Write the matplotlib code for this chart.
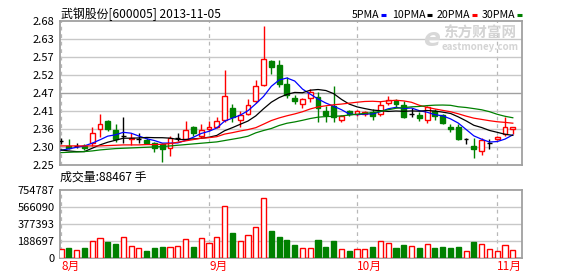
import matplotlib
matplotlib.use('Agg')
import matplotlib.pyplot as plt
import numpy as np
import pandas as pd
from matplotlib.transforms import ScaledTranslation
from matplotlib.lines import Line2D

plt.rcParams['font.family'] = ['Noto Sans CJK SC', 'DejaVu Sans']

# ---------------- data ----------------
title = '武钢股份[600005] 2013-11-05'
month_idx = [0, 19, 38, 56]
month_labels = ['8月', '9月', '10月', '11月']

opens = [2.322, 2.307, 2.307, 2.306, 2.317, 2.357, 2.382, 2.355, 2.337, 2.328,
         2.329, 2.326, 2.315, 2.312, 2.300, 2.332, 2.327, 2.364, 2.337, 2.357,
         2.364, 2.384, 2.420, 2.384, 2.402, 2.440, 2.488, 2.560, 2.550, 2.493,
         2.449, 2.432, 2.451, 2.454, 2.410, 2.427, 2.384, 2.410, 2.402, 2.402,
         2.409, 2.402, 2.435, 2.440, 2.430, 2.402, 2.399, 2.384, 2.412, 2.399,
         2.364, 2.364, 2.327, 2.307, 2.291, 2.315, 2.327, 2.344, 2.357]
highs = [2.332, 2.329, 2.316, 2.312, 2.362, 2.402, 2.384, 2.372, 2.392, 2.345,
         2.345, 2.332, 2.318, 2.317, 2.337, 2.345, 2.382, 2.366, 2.372, 2.382,
         2.392, 2.533, 2.432, 2.412, 2.448, 2.505, 2.665, 2.565, 2.565, 2.513,
         2.460, 2.449, 2.478, 2.467, 2.427, 2.485, 2.399, 2.415, 2.415, 2.412,
         2.417, 2.442, 2.457, 2.448, 2.442, 2.419, 2.407, 2.427, 2.417, 2.402,
         2.372, 2.372, 2.332, 2.332, 2.332, 2.327, 2.337, 2.392, 2.364]
lows = [2.312, 2.297, 2.302, 2.296, 2.307, 2.335, 2.353, 2.320, 2.315, 2.310,
        2.317, 2.312, 2.289, 2.260, 2.277, 2.322, 2.325, 2.338, 2.332, 2.352,
        2.360, 2.378, 2.377, 2.362, 2.398, 2.435, 2.485, 2.521, 2.483, 2.451,
        2.432, 2.420, 2.437, 2.377, 2.377, 2.377, 2.377, 2.395, 2.395, 2.395,
        2.384, 2.395, 2.430, 2.424, 2.390, 2.392, 2.382, 2.375, 2.384, 2.372,
        2.349, 2.325, 2.312, 2.272, 2.280, 2.297, 2.324, 2.337, 2.344]
closes = [2.322, 2.302, 2.307, 2.300, 2.345, 2.372, 2.357, 2.327, 2.337, 2.332,
          2.329, 2.317, 2.300, 2.299, 2.332, 2.332, 2.355, 2.347, 2.355, 2.364,
          2.382, 2.457, 2.392, 2.399, 2.430, 2.485, 2.568, 2.543, 2.493, 2.460,
          2.440, 2.448, 2.467, 2.420, 2.400, 2.392, 2.397, 2.402, 2.410, 2.409,
          2.395, 2.430, 2.445, 2.432, 2.392, 2.402, 2.390, 2.422, 2.395, 2.375,
          2.357, 2.327, 2.327, 2.299, 2.325, 2.315, 2.334, 2.364, 2.362]
volumes = [93400, 104600, 82000, 104600, 183000, 216700, 172000, 149000, 228000, 127000,
           104600, 71000, 104600, 116000, 116000, 127000, 202000, 116000, 216700, 160700,
           228000, 571700, 272800, 183000, 246600, 336000, 661000, 295000, 228000, 198000,
           138000, 108000, 108000, 194000, 116000, 183000, 93000, 71000, 93000, 93000,
           116000, 183000, 161000, 105000, 138000, 127000, 105000, 149000, 105000, 116000,
           105000, 116000, 71000, 172000, 149000, 93000, 71000, 138000, 88467]

# moving-average values before each window is filled
ma5_head = [2.294, 2.298, 2.303, 2.307]
ma10_head = [2.295, 2.292, 2.290, 2.290, 2.300, 2.310, 2.318, 2.324, 2.330]
ma20_head = [2.307, 2.307, 2.307, 2.307, 2.307, 2.307, 2.308, 2.309, 2.310, 2.310,
             2.310, 2.311, 2.311, 2.312, 2.314, 2.318, 2.322, 2.326, 2.330]
ma30_head = [2.287, 2.288, 2.289, 2.290, 2.292, 2.295, 2.297, 2.299, 2.300, 2.301,
             2.302, 2.303, 2.304, 2.305, 2.307, 2.309, 2.311, 2.313, 2.315, 2.317,
             2.319, 2.323, 2.327, 2.331, 2.336, 2.346, 2.353, 2.359, 2.368]

price_ticks = [2.25, 2.30375, 2.3575, 2.41125, 2.465, 2.51875, 2.5725, 2.62625, 2.68]
price_tick_labels = ['2.25', '2.30', '2.36', '2.41', '2.47', '2.52', '2.57', '2.63', '2.68']
vol_ticks = [0, 188697, 377393, 566090, 754787]
vol_tick_labels = ['0', '188697', '377393', '566090', '754787']

ma_names = ['5PMA', '10PMA', '20PMA', '30PMA']
ma_colors = ['#0000ff', '#000000', '#ff0000', '#008000']

# ---------------- figure ----------------
W, H = 578, 276
fig = plt.figure(figsize=(W / 100, H / 100), dpi=100)
fig.patch.set_facecolor('white')

def fx(px):
    return px / W

def fy(py):
    return 1 - py / H

L, R = 60, 522
ax = fig.add_axes([fx(L), fy(165), (R - L) / W, (165 - 21) / H])
axv = fig.add_axes([fx(L), fy(257.5), (R - L) / W, (257.5 - 190) / H])

n = len(closes)
x = np.arange(n)
xlim = (-0.13, 59.18)

GREEN = '#008000'
RED = '#ff0000'
grid_c = '#c8c8c8'
border_c = '#a0a0a0'

for a in (ax, axv):
    a.set_xlim(*xlim)
    for s in a.spines.values():
        s.set_color(border_c)
        s.set_linewidth(1.3)
    a.tick_params(axis='both', length=0, labelsize=8, pad=4)
    for m in month_idx:
        a.axvline(m, color='#b8b8b8', lw=0.9, ls=(0, (3, 3)), zorder=1)

# price panel
ax.set_ylim(price_ticks[0], price_ticks[-1])
ax.set_yticks(price_ticks)
ax.set_yticklabels(price_tick_labels)
ax.set_xticks([])
for k, t in enumerate(price_ticks[1:-1], start=1):
    ax.axhline(t, color=border_c if k == 4 else grid_c, lw=1.0, zorder=1)

bw = 0.62
for i in range(n):
    o, h, l, c = opens[i], highs[i], lows[i], closes[i]
    if c > o:
        ax.vlines(i, c, h, color=RED, lw=1, zorder=3)
        ax.vlines(i, l, o, color=RED, lw=1, zorder=3)
        ax.bar(i, c - o, bottom=o, width=bw, facecolor='white', edgecolor=RED,
               lw=1, zorder=3)
    elif c < o:
        ax.vlines(i, l, h, color=GREEN, lw=1, zorder=3)
        ax.bar(i, o - c, bottom=c, width=bw, facecolor=GREEN, edgecolor=GREEN,
               lw=1, zorder=3)
    else:
        ax.vlines(i, l, h, color='black', lw=1, zorder=3)
        ax.hlines(o, i - bw / 2, i + bw / 2, color='black', lw=1, zorder=3)

cs = pd.Series(closes)
for head, win, col in zip([ma5_head, ma10_head, ma20_head, ma30_head],
                          [5, 10, 20, 30], ma_colors):
    vals = cs.rolling(win).mean().values
    vals[:len(head)] = head
    ax.plot(x, vals, color=col, lw=0.9, zorder=4)

# volume panel
axv.set_ylim(0, vol_ticks[-1])
axv.set_yticks(vol_ticks)
axv.set_yticklabels(vol_tick_labels)
for t in vol_ticks[1:-1]:
    axv.axhline(t, color=grid_c, lw=1.0, zorder=1)
for i in range(n):
    up = closes[i] >= opens[i]
    axv.bar(i, volumes[i], width=0.66,
            facecolor='white' if up else GREEN,
            edgecolor=RED if up else GREEN, lw=1, zorder=3)

axv.set_xticks(month_idx)
axv.set_xticklabels(month_labels)
for lab in axv.get_xticklabels():
    lab.set_color(RED)
    lab.set_fontsize(8.5)
    lab.set_horizontalalignment('left')
    lab.set_transform(lab.get_transform() + ScaledTranslation(-3 / 100, 0, fig.dpi_scale_trans))
axv.tick_params(axis='x', pad=2)

# texts
fig.text(fx(61), fy(14), title, fontsize=8.6, va='center', ha='left', color='#000000')
fig.text(fx(60), fy(177), f'成交量:{volumes[-1]} 手', fontsize=8.6, va='center', ha='left')

# legend: labels followed by short coloured dashes
fig.canvas.draw()
renderer = fig.canvas.get_renderer()
leg_x = [352, 392, 437, 482]
for name, col, lx in zip(ma_names, ma_colors, leg_x):
    t = fig.text(fx(lx), fy(14.5), name, fontsize=7.6, va='center', ha='left')
    bb = t.get_window_extent(renderer=renderer)
    dx = bb.x1 + 1.5
    fig.add_artist(Line2D([fx(dx), fx(dx + 5)], [fy(14.5), fy(14.5)], color=col,
                          lw=2.2, solid_capstyle='butt'))

# watermark
fig.text(fx(480), fy(33), '东方财富网', fontsize=10.5, fontweight='bold',
         color='#d4d4d4', ha='center', va='center', zorder=0)
fig.text(fx(480), fy(46.5), 'eastmoney.com', fontsize=7, fontweight='bold',
         color='#d4d4d4', ha='center', va='center', zorder=0)
fig.text(fx(432), fy(39), 'e', fontsize=18, fontweight='bold', style='italic',
         color='#d8d8d8', ha='center', va='center', zorder=0, family='DejaVu Sans')

fig.savefig('out.png', dpi=100, facecolor='white')
